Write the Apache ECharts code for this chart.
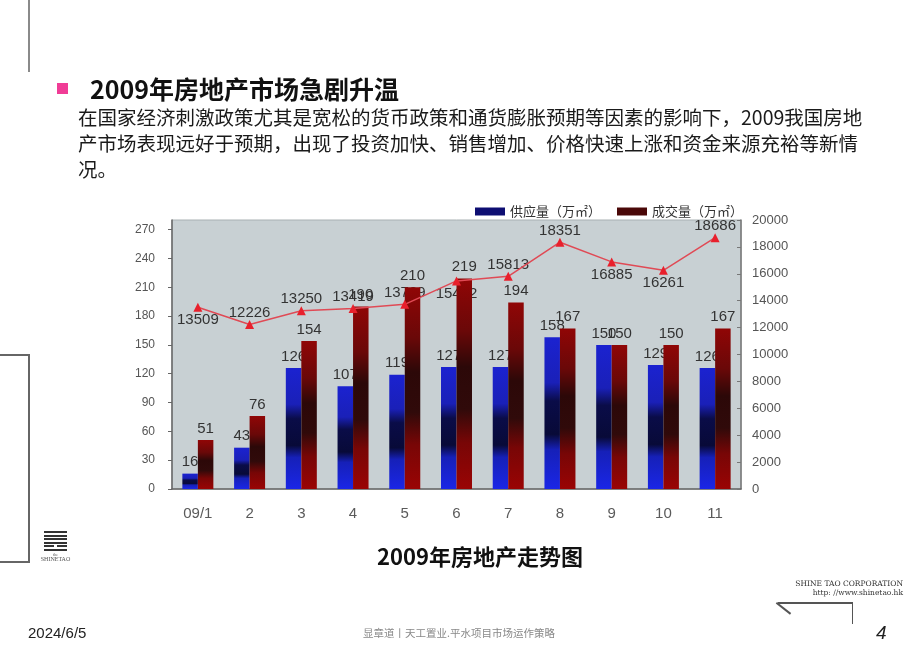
<!DOCTYPE html>
<html><head><meta charset="utf-8">
<script src="https://cdn.jsdelivr.net/npm/echarts@6/dist/echarts.min.js"></script>
<style>
html,body{margin:0;padding:0;background:#fff;}
#page{position:relative;width:920px;height:651px;overflow:hidden;font-family:"Noto Sans CJK SC","Noto Sans",sans-serif;}
#chart{position:absolute;left:0;top:0;width:920px;height:651px;}
.abs{position:absolute;white-space:nowrap;}
.ln{position:absolute;background:#666;}
</style></head>
<body><div id="page">
<div id="chart"></div>
<div class="ln" style="left:28px;top:0;width:1.5px;height:72px;background:#8a8a8a;"></div>
<div class="abs" style="left:57px;top:83px;width:11px;height:11px;background:#f03c96;"></div>
<div class="abs" style="left:90px;top:74px;font-size:25px;line-height:28px;font-weight:bold;color:#111;">2009年房地产市场急剧升温</div>
<div class="abs" style="left:78px;top:104px;font-size:19.5px;line-height:26px;color:#1a1a1a;">在国家经济刺激政策尤其是宽松的货币政策和通货膨胀预期等因素的影响下，2009我国房地<br>产市场表现远好于预期，出现了投资加快、销售增加、价格快速上涨和资金来源充裕等新情<br>况。</div>
<div class="abs" style="left:0;width:960px;top:541px;text-align:center;font-size:22px;line-height:28px;font-weight:bold;color:#111;">2009年房地产走势图</div>
<!-- left box -->
<div class="ln" style="left:0;top:354px;width:29px;height:2px;"></div>
<div class="ln" style="left:27.5px;top:354px;width:2px;height:209px;"></div>
<div class="ln" style="left:0;top:561px;width:29px;height:2px;"></div>
<!-- logo -->
<div class="ln" style="left:44px;top:531px;width:23px;height:2px;background:#333;"></div>
<div class="ln" style="left:44px;top:534.5px;width:23px;height:2px;background:#333;"></div>
<div class="ln" style="left:44px;top:538px;width:23px;height:2px;background:#333;"></div>
<div class="ln" style="left:44px;top:541.5px;width:23px;height:2px;background:#333;"></div>
<div class="ln" style="left:44px;top:545px;width:10px;height:2px;background:#333;"></div>
<div class="ln" style="left:57px;top:545px;width:10px;height:2px;background:#333;"></div>
<div class="ln" style="left:44px;top:548.5px;width:23px;height:2px;background:#333;"></div>
<div class="abs" style="left:44px;width:23px;top:552px;text-align:center;font-size:4px;line-height:5px;color:#555;font-family:'Liberation Serif',serif;">the</div>
<div class="abs" style="left:40px;width:31px;top:556px;text-align:center;font-size:6px;line-height:7px;color:#555;font-family:'Liberation Serif',serif;">SHINETAO</div>
<!-- right corp -->
<div class="abs" style="right:17px;top:580px;text-align:right;font-size:7.5px;line-height:8.5px;color:#333;font-family:'DejaVu Serif','Liberation Serif',serif;">SHINE TAO CORPORATION<br>http: //www.shinetao.hk</div>
<div class="ln" style="left:778px;top:602px;width:75px;height:1.5px;background:#555;"></div>
<div class="ln" style="left:851.5px;top:602px;width:1.5px;height:22px;background:#555;"></div>
<div class="ln" style="left:777px;top:602px;width:18px;height:1.5px;background:#555;transform-origin:0 0;transform:rotate(38deg);"></div>
<!-- footer -->
<div class="abs" style="left:28px;top:624px;font-size:15px;line-height:18px;color:#222;font-family:'Liberation Sans',Arial,sans-serif;">2024/6/5</div>
<div class="abs" style="left:363px;top:626px;font-size:10.5px;line-height:14px;color:#888;">显章道丨天工置业.平水项目市场运作策略</div>
<div class="abs" style="left:876px;top:622px;font-size:19px;line-height:22px;color:#222;font-style:italic;font-family:'Liberation Sans',Arial,sans-serif;">4</div>
</div>
<script>
// ---- data ----
const months = ['09/1','2','3','4','5','6','7','8','9','10','11'];
const seriesNames = ['供应量（万㎡）','成交量（万㎡）'];
const supply = [16,43,126,107,119,127,127,158,150,129,126];
const deals = [51,76,154,190,210,219,194,167,150,150,167];
const lineValues = [13509,12226,13250,13419,13729,15472,15813,18351,16885,16261,18686];
const leftTicks = {min:0, max:280, interval:30};
const rightTicks = {min:0, max:20000, interval:2000};
// label placement for line labels (layout, not data)
const lineLabelSide = ['bottom','top','top','top','top','bottom','top','top','bottom','bottom','top'];

const F = '"Liberation Sans", Arial, sans-serif';
const BAR_W = 15.5;
function grad(stops){
  return new echarts.graphic.LinearGradient(0,0,0,1, stops.map(s=>({offset:s[0],color:s[1]})));
}
const blueGrad = grad([[0,'#1b22d0'],[0.3,'#1a20b8'],[0.42,'#0a0c48'],[0.64,'#080a38'],[0.74,'#1620b8'],[1,'#1a26e6']]);
const redGrad = grad([[0,'#900606'],[0.25,'#6a0808'],[0.42,'#2c0808'],[0.62,'#300a0a'],[0.78,'#780606'],[1,'#9a0404']]);

// text marks drawn as real graphic elements so that bars can overlap them (as in the reference)
function textMarks(dx, sides){
  return function(params, api){
    const i = api.value(0), v = api.value(1);
    const pt = api.coord([i, v]);
    const side = sides ? sides[i] : 'top';
    return {
      type:'text',
      x: pt[0] + dx,
      y: side === 'top' ? pt[1] - 4 : pt[1] + 5,
      style:{text:String(v), fill:'#333', font:'15px ' + F, align:'center',
             verticalAlign: side === 'top' ? 'bottom' : 'top'}
    };
  };
}

const chart = echarts.init(document.getElementById('chart'));
const plain = v => String(v);
chart.setOption({
  animation:false,
  textStyle:{fontFamily:F},
  legend:{
    left:470, top:200, itemWidth:30, itemHeight:8, itemGap:16, icon:'rect',
    textStyle:{fontSize:13, color:'#333', fontFamily:'"Noto Sans CJK SC", sans-serif'},
    data:[{name:seriesNames[0], itemStyle:{color:'#0e0e72'}},{name:seriesNames[1], itemStyle:{color:'#4a0808'}}]
  },
  grid:{left:172,right:179,top:220,bottom:162,show:true,backgroundColor:'#c8d0d3',borderColor:'#a8b0b3',borderWidth:1},
  xAxis:{
    type:'category', data:months,
    axisLine:{lineStyle:{color:'#666',width:1.5}},
    axisTick:{inside:true,length:3,lineStyle:{color:'#666'}},
    axisLabel:{fontSize:15,color:'#5a5a5a',margin:17,fontFamily:F}
  },
  yAxis:[
    {type:'value', min:leftTicks.min, max:leftTicks.max, interval:leftTicks.interval,
     splitLine:{show:false},
     axisLine:{show:true,lineStyle:{color:'#666',width:1.5}},
     axisTick:{show:true,length:4,lineStyle:{color:'#666'}},
     axisLabel:{showMaxLabel:false,fontSize:12,color:'#555',margin:17,fontFamily:F,formatter:plain}},
    {type:'value', position:'right', min:rightTicks.min, max:rightTicks.max, interval:rightTicks.interval,
     splitLine:{show:false},
     axisLine:{show:true,lineStyle:{color:'#777',width:1.5}},
     axisTick:{show:true,inside:true,length:4,lineStyle:{color:'#777'}},
     axisLabel:{fontSize:13,color:'#555',margin:11,fontFamily:F,formatter:plain}}
  ],
  series:[
    {name:'lineLabels', type:'custom', yAxisIndex:1, z:1, silent:true,
     data:lineValues.map((v,i)=>[i,v]), renderItem:textMarks(0, lineLabelSide)},
    {name:seriesNames[0], type:'bar', z:2, data:supply, barWidth:BAR_W, barGap:'0%',
     itemStyle:{color:blueGrad}},
    {name:'supplyLabels', type:'custom', z:3, silent:true,
     data:supply.map((v,i)=>[i,v]), renderItem:textMarks(-BAR_W/2, null)},
    {name:seriesNames[1], type:'bar', z:4, data:deals, barWidth:BAR_W, barGap:'0%',
     itemStyle:{color:redGrad},
     label:{show:true,position:'top',distance:4,fontSize:15,color:'#333',fontFamily:F}},
    {name:'line', type:'line', yAxisIndex:1, z:6, data:lineValues, symbol:'triangle', symbolSize:9,
     itemStyle:{color:'#e8202c'}, lineStyle:{color:'#e04a55',width:1.5}, label:{show:false}}
  ]
});
</script>
</body></html>
